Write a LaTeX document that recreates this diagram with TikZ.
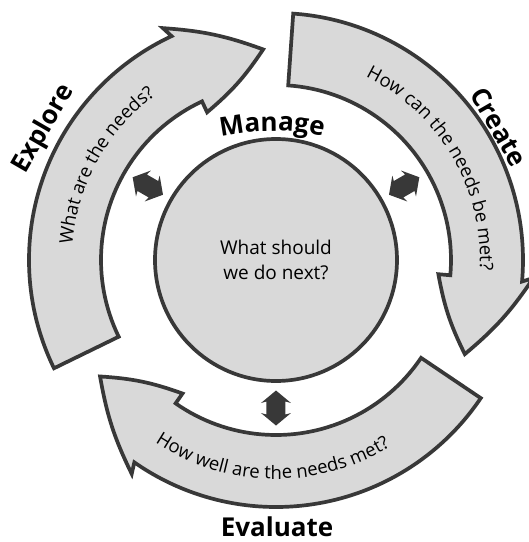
\documentclass[tikz,border=0pt]{standalone}
\usepackage{fontspec}
\setmainfont{Open Sans}
\usetikzlibrary{decorations.text}
\definecolor{ringfill}{HTML}{D9D9D9}
\definecolor{ringline}{HTML}{383838}
\newcommand\arcfont{\fontsize{18.5}{22}\selectfont}
\newcommand\phasefont{\fontsize{26}{30}\selectfont\bfseries}

\begin{document}
\begin{tikzpicture}[x=1pt,y=1pt,
  band/.style={draw=ringline,fill=ringfill,line width=3.7pt},
  twoway/.style={fill=ringline},
  phase/.style={font=\phasefont},
  arctext/.style={decorate,decoration={text along path,text align=center,text={#1}}}]
\useasboundingbox (-276,-282) rectangle (253,260);
\foreach \t in {206,86,-34}
  \draw[band] (\t:175) -- (\t:247) arc[start angle=\t,end angle=\t-91,radius=247]
    -- (\t-90:258) to[bend left=8] (\t-112.5:211) to[bend left=8] (\t-91:163)
    -- (\t-91:175) arc[start angle=\t-91,end angle=\t,radius=175] -- cycle;
\node[band,circle,minimum size=242pt,font=\fontsize{19}{25}\selectfont,align=center] (hub) at (0,0) {What should\\we do next?};
\foreach \a in {150,30,270}
  \fill[twoway,shift={(\a:148)},rotate=\a] (-17.5,0) -- (-5,15) -- (-6.5,9.5) -- (6.5,9.5) -- (5,15)
    -- (17.5,0) -- (5,-15) -- (6.5,-9.5) -- (-6.5,-9.5) -- (-5,-15) -- cycle;
\path[arctext={|\arcfont|What are the needs?}] (201:204) arc[start angle=201,end angle=101,radius=204];
\path[arctext={|\arcfont|How can the needs be met?}] (80.5:204) arc[start angle=80.5,end angle=-19.5,radius=204];
\path[arctext={|\arcfont|How well are the needs met?}] (219:219) arc[start angle=219,end angle=319,radius=219];
\path[arctext={|\phasefont|Manage}] (-129,95.5) arc[start angle=120,end angle=60,radius=250];
\node[phase,rotate=60] (explore) at (-232,131) {Explore};
\node[phase,rotate=-60] (create) at (223,133) {Create};
\node[phase] (evaluate) at (1,-267) {Evaluate};
\end{tikzpicture}
\end{document}
